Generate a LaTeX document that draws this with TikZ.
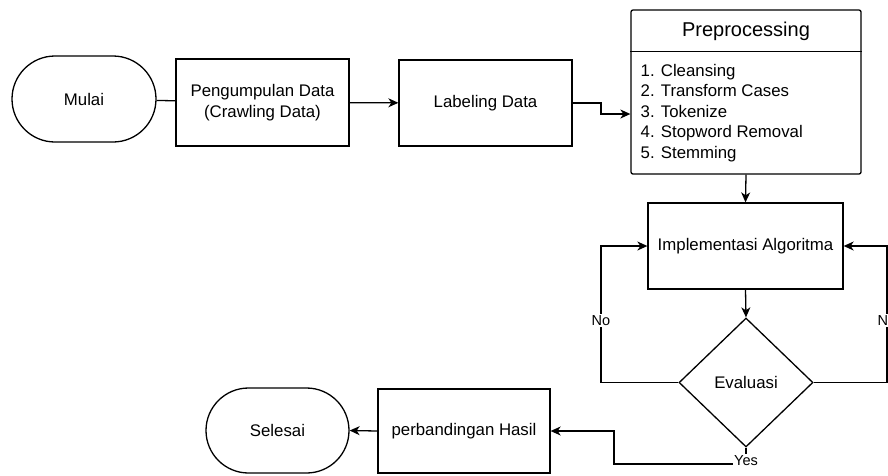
\documentclass[tikz,border=0pt]{standalone}
\usepackage{fontspec}
\setmainfont{Liberation Sans}
\usetikzlibrary{shapes.misc,shapes.geometric,arrows.meta}
\begin{document}
\begin{tikzpicture}[x=1pt,y=-1pt,
  font=\fontsize{16.8}{21}\selectfont,
  line width=1.3pt,
  box/.style={draw, rectangle, inner sep=0pt, align=center},
  term/.style={draw, rounded rectangle, inner sep=0pt, align=center},
  dec/.style={draw, diamond, inner sep=0pt, align=center},
  arr/.style={-{Stealth[length=10pt,width=9pt,inset=3pt]}},
  lbl/.style={fill=white, inner sep=1.5pt, font=\fontsize{14.5}{17}\selectfont}]
\useasboundingbox (0,0) rectangle (888,475);
\clip (0,0) rectangle (888,475);

% process nodes
\node[term, minimum width=144, minimum height=86] (mulai) at (84,99) {Mulai};
\node[box, minimum width=173, minimum height=87] (peng) at (262.5,102.5) {Pengumpulan Data\\(Crawling Data)};
\node[box, minimum width=173, minimum height=86] (label) at (485.5,103) {Labeling Data};

% preprocessing block with header
\node[draw, rectangle, rounded corners=2pt, minimum width=230, minimum height=164, inner sep=0pt] (pre) at (746,92) {};
\draw ([yshift=-42pt]pre.north west) -- ([yshift=-42pt]pre.north east);
\node[font=\fontsize{20}{24}\selectfont] (pretitle) at (746,31) {Preprocessing};
\node[anchor=west, align=left, inner sep=0pt, font=\fontsize{16.8}{20.5}\selectfont] (steps) at (640,113)
  {1. Cleansing\\2. Transform Cases\\3. Tokenize\\4. Stopword Removal\\5. Stemming};

\node[box, minimum width=195, minimum height=86] (impl) at (745.5,246) {Implementasi Algoritma};
\node[dec, minimum width=134, minimum height=129] (eval) at (746,382.5) {Evaluasi};
\node[box, minimum width=172, minimum height=84] (perb) at (464,431) {perbandingan Hasil};
\node[term, minimum width=143, minimum height=85] (selesai) at (277.5,430.5) {Selesai};

% route points
\coordinate (lp) at (601,114);
\coordinate (nl) at (601,246);
\coordinate (nr) at (887,246);
\coordinate (ya) at (746,464);
\coordinate (yb) at (614,431);

% connectors
\draw (mulai) -- (peng);
\draw[arr] (peng) -- (label);
\draw[arr] (label.east) -| (lp) -- (pre.west |- lp);
\draw[arr] (pre.south) -- (impl.north);
\draw[arr] (impl.south) -- (eval.north);
\draw[arr] (eval.west) -| node[lbl, pos=0.728] (nolbl) {No} (nl) -- (impl.west);
\draw[arr] (eval.east) -| node[lbl, pos=0.728] (nolbr) {No} (nr) -- (impl.east);
\draw[arr] (eval.south) -- (ya) -| (yb) -- (perb.east);
\node[lbl] (yes) at (746,461) {Yes};
\draw[arr] (perb.west) -- (selesai.east);
\end{tikzpicture}
\end{document}
